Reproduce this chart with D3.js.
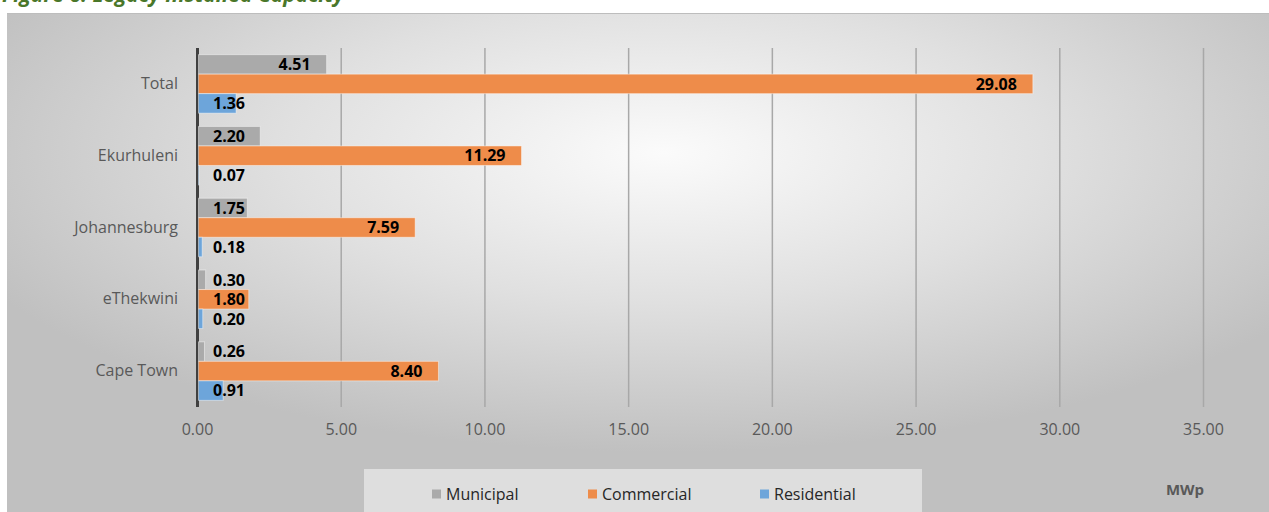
<!DOCTYPE html>
<html>
<head>
<meta charset="utf-8">
<script src="https://cdn.jsdelivr.net/npm/d3@7"></script>
<style>
  body { margin: 0; background: #fff; }
  svg { display: block; font-family: "Open Sans", sans-serif; }
</style>
</head>
<body>
<svg id="chart"></svg>
<script>
const categories = ["Total", "Ekurhuleni", "Johannesburg", "eThekwini", "Cape Town"];
const seriesNames = ["Municipal", "Commercial", "Residential"];
const municipal = [4.51, 2.20, 1.75, 0.30, 0.26];
const commercial = [29.08, 11.29, 7.59, 1.80, 8.40];
const residential = [1.36, 0.07, 0.18, 0.20, 0.91];
const xTicks = [0, 5, 10, 15, 20, 25, 30, 35];
const colors = ["#aaaaaa", "#ee8c4a", "#6da5da"];

const width = 1269;
const height = 512;

const svg = d3.select("#chart")
    .attr("width", width)
    .attr("height", height);

/* background gradient of the chart area */
const defs = svg.append("defs");
const grad = defs.append("radialGradient")
    .attr("id", "bg")
    .attr("cx", "52%").attr("cy", "28%")
    .attr("r", "60%");
grad.append("stop").attr("offset", "0%").attr("stop-color", "#fbfbfb");
grad.append("stop").attr("offset", "50%").attr("stop-color", "#e0e0e0");
grad.append("stop").attr("offset", "100%").attr("stop-color", "#c0c0c0");

// title, mostly cut off at the top
svg.append("text")
    .attr("x", 2)
    .attr("y", 2)
    .attr("fill", "#4a7729")
    .attr("font-size", 21)
    .attr("font-weight", "bold")
    .attr("font-style", "italic")
    .text("Figure 6: Legacy Installed Capacity");

svg.append("rect")
    .attr("x", 7).attr("y", 13)
    .attr("width", width - 7).attr("height", height - 13)
    .attr("fill", "url(#bg)");
svg.append("line")
    .attr("x1", 7).attr("x2", width)
    .attr("y1", 13.5).attr("y2", 13.5)
    .attr("stroke", "#bdbdbd");

const x = d3.scaleLinear()
    .domain([0, 35])
    .range([197, 1203]);

const y = d3.scaleBand()
    .domain(categories)
    .range([48, 407])
    .paddingInner(0.185)
    .paddingOuter(0.0925);

const ySub = d3.scaleBand()
    .domain(seriesNames)
    .range([0, y.bandwidth()]);

// value axis with gridlines
const xAxis = svg.append("g")
    .attr("transform", `translate(0,407)`)
    .call(d3.axisBottom(x).tickValues(xTicks).tickFormat(d3.format(".2f"))
        .tickSize(-(407 - 48)).tickPadding(17));
xAxis.select(".domain").remove();
xAxis.selectAll(".tick line")
    .attr("stroke", (d) => d === 0 ? "#404040" : "#a8a8a8")
    .attr("stroke-width", (d) => d === 0 ? 3 : 1.5);
xAxis.selectAll(".tick text")
    .attr("fill", "#595959")
    .attr("font-size", 16)
    .attr("font-family", "'Open Sans', sans-serif");

const rows = categories.map((c, i) => ({
    cat: c,
    vals: [municipal[i], commercial[i], residential[i]]
}));

const groups = svg.append("g")
    .selectAll("g")
    .data(rows)
    .join("g")
    .attr("transform", (d) => `translate(0,${y(d.cat)})`);

groups.selectAll("rect")
    .data((d) => d.vals.map((v, j) => ({ v: v, s: seriesNames[j], j: j })))
    .join("rect")
    .attr("x", x(0) + 1.5)
    .attr("y", (d) => ySub(d.s))
    .attr("width", (d) => Math.max(0, x(d.v) - x(0) - 1.5))
    .attr("height", ySub.bandwidth())
    .attr("fill", (d) => colors[d.j])
    .attr("stroke", "rgba(255,255,255,0.45)")
    .attr("stroke-width", 1);

// value labels: inside end, pushed right when the bar is short
groups.selectAll("text.val")
    .data((d) => d.vals.map((v, j) => ({ v: v, s: seriesNames[j], j: j })))
    .join("text")
    .attr("class", "val")
    .attr("y", (d) => ySub(d.s) + ySub.bandwidth() / 2)
    .attr("dy", "0.36em")
    .attr("font-size", 16)
    .attr("font-weight", "bold")
    .attr("fill", "#000")
    .text((d) => d3.format(".2f")(d.v))
    .each(function (d) {
        const w = this.getComputedTextLength();
        const left = Math.max(x(d.v) - 16 - w, 213);
        d3.select(this).attr("x", left);
    });

// category axis
const yAxis = svg.append("g")
    .attr("transform", `translate(197,0)`)
    .call(d3.axisLeft(y).tickSize(0).tickPadding(19));
yAxis.select(".domain").remove();
yAxis.selectAll(".tick text")
    .attr("fill", "#595959")
    .attr("font-size", 16)
    .attr("font-family", "'Open Sans', sans-serif");

svg.append("text")
    .attr("x", 1185)
    .attr("y", 490)
    .attr("dy", "0.35em")
    .attr("text-anchor", "middle")
    .attr("fill", "#595959")
    .attr("font-size", 15)
    .attr("font-weight", "bold")
    .text("MWp");

// legend
svg.append("rect")
    .attr("x", 364).attr("y", 469)
    .attr("width", 922 - 364).attr("height", height - 469)
    .attr("fill", "rgba(245,245,245,0.55)");

const legendX = [432, 588, 760];
const legend = svg.append("g")
    .selectAll("g")
    .data(seriesNames)
    .join("g")
    .attr("transform", (d, i) => `translate(${legendX[i]},494)`);
legend.append("rect")
    .attr("x", 0).attr("y", -4.5)
    .attr("width", 9).attr("height", 9)
    .attr("fill", (d, i) => colors[i]);
legend.append("text")
    .attr("x", 14)
    .attr("dy", "0.35em")
    .attr("font-size", 16)
    .attr("fill", "#262626")
    .text((d) => d);
</script>
</body>
</html>
